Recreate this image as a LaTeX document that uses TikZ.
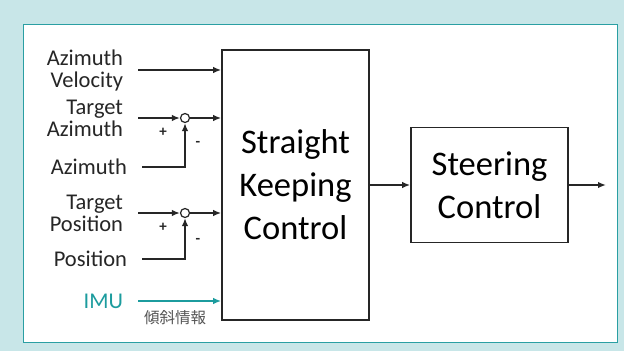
\documentclass[tikz,border=0pt]{standalone}
\usepackage{fontspec}
\setmainfont{Carlito}
\newfontfamily\jpfont{Noto Sans CJK JP}
\usepackage{xcolor}
\definecolor{frame}{HTML}{C8E6E8}
\definecolor{rim}{HTML}{2A9FA3}
\definecolor{imuteal}{HTML}{1C9C9E}
\definecolor{ink}{HTML}{262626}
\definecolor{note}{HTML}{555555}
\usetikzlibrary{arrows.meta,positioning,calc}
\tikzset{
    ctrlblock/.style={draw=ink, line width=1.6pt, fill=white, align=center, inner sep=0pt, font=\fontsize{34.5}{43}\selectfont},
    inlabel/.style={anchor=east, align=right, inner sep=0pt, outer xsep=15pt, text=ink, font=\fontsize{22.5}{22}\selectfont},
    sumpoint/.style={circle, draw=ink, fill=white, line width=1.2pt, inner sep=0pt, minimum size=9pt},
    sign/.style={inner sep=0pt, text=ink, font=\bfseries\fontsize{15}{15}\selectfont},
    arrow/.style={-{Latex[length=8pt,width=6.5pt]}, line width=1.6pt, ink},
    imuarrow/.style={-{Latex[length=8pt,width=6.5pt]}, line width=1.6pt, imuteal}
}
\begin{document}
\begin{tikzpicture}[x=1pt, y=-1pt]
  \useasboundingbox (0,0) rectangle (624,351);
  % Frame
  \fill[frame] (0,0) rectangle (624,351);
  \draw[rim, fill=white, line width=1pt] (23,24) rectangle (617,342);

  % Control blocks
  \node[ctrlblock, minimum width=147pt, minimum height=270pt] (skc) at (295.5,185) {Straight\\Keeping\\Control};
  \node[ctrlblock, minimum width=157pt, minimum height=115pt] (steer) at (489.5,185) {Steering\\Control};
  \coordinate (out) at (606,185);

  % Input signals
  \node[inlabel] (avel) at (138,70) {Azimuth\\Velocity};
  \node[inlabel] (tazi) at (138,118) {Target\\Azimuth};
  \node[inlabel] (azi) at (142,167) {Azimuth};
  \node[inlabel] (tpos) at (138,213) {Target\\Position};
  \node[inlabel] (pos) at (142,259) {Position};
  \node[inlabel, text=imuteal] (imu) at (138,301) {IMU};
  \node[text=note, inner sep=0pt, font=\jpfont\fontsize{15.5}{15}\selectfont] (tilt) at (175,318) {傾斜情報};

  % Summing points
  \node[sumpoint] (sum1) at (185,118) {};
  \node[sumpoint] (sum2) at (185,213) {};
  \node[sign] (plus1) at (163,132) {+};
  \node[sign] (minus1) at (198,144) {-};
  \node[sign] (plus2) at (163,227) {+};
  \node[sign] (minus2) at (198,241) {-};

  % Connections
  \draw[arrow] (avel.east) -- (avel.east -| skc.west);
  \draw[arrow] (tazi.east) -- (sum1.west);
  \draw[arrow] (sum1.east) -- (sum1.east -| skc.west);
  \draw[arrow] (azi.east) -| (sum1.south);
  \draw[arrow] (tpos.east) -- (sum2.west);
  \draw[arrow] (sum2.east) -- (sum2.east -| skc.west);
  \draw[arrow] (pos.east) -| (sum2.south);
  \draw[imuarrow] (imu.east) -- (imu.east -| skc.west);
  \draw[arrow] (skc.east) -- (steer.west);
  \draw[arrow] (steer.east) -- (out);
\end{tikzpicture}
\end{document}
